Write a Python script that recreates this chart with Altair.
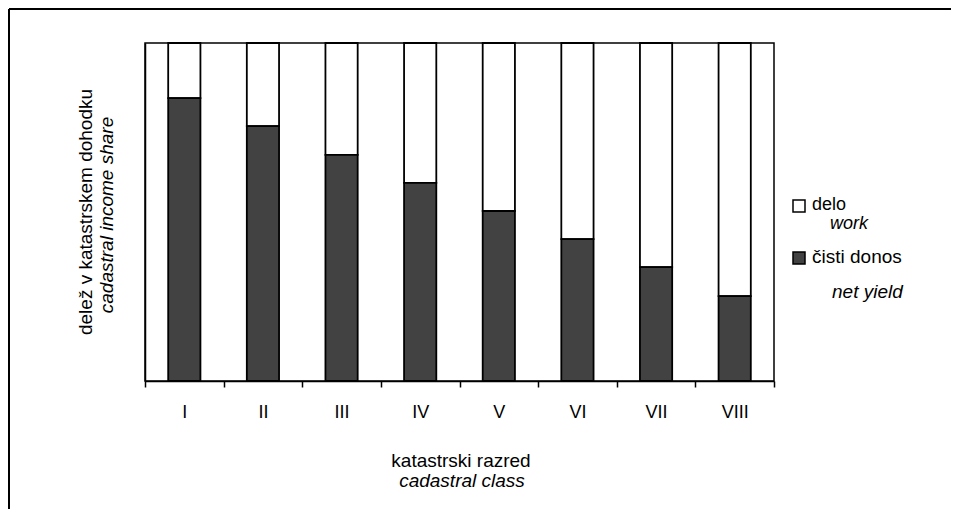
import altair as alt
import pandas as pd

classes = ["I", "II", "III", "IV", "V", "VI", "VII", "VIII"]
net_yield = [83.7, 75.4, 66.9, 58.6, 50.3, 42.0, 33.7, 25.1]
total = [100] * 8
zero = [0] * 8

df = pd.DataFrame({"cls": classes, "net": net_yield, "total": total, "zero": zero})

W, H = 629, 338
FONT = "Liberation Sans"
DARK = "#424242"
FS = 19

xenc = alt.X(
    "cls:N",
    sort=classes,
    scale=alt.Scale(paddingInner=0, paddingOuter=0),
    axis=alt.Axis(
        title=None, labelAngle=0, tickBand="extent", tickSize=6,
        labelPadding=16, labelFontSize=18, labelFont=FONT, labelColor="black",
        domainColor="black", domainWidth=1.5, tickColor="black", tickWidth=1.5,
    ),
)
yscale = alt.Scale(domain=[0, 100], nice=False)
yaxis = alt.Axis(title=None, labels=False, ticks=False, grid=False,
                 domainColor="black", domainWidth=1.5)

barw = alt.RelativeBandSize(0.41)

work = alt.Chart(df).mark_bar(width=barw, fill="white", stroke="black", strokeWidth=1.8).encode(
    x=xenc, y=alt.Y("net:Q", scale=yscale, axis=yaxis), y2="total:Q"
)
net = alt.Chart(df).mark_bar(width=barw, fill=DARK, stroke="black", strokeWidth=1.8).encode(
    x=xenc, y=alt.Y("net:Q", scale=yscale, axis=yaxis), y2="zero:Q"
)


def label(txt, x, y, italic=False, angle=0, align="left", size=FS):
    kw = dict(font=FONT, fontSize=size, color="black", align=align, baseline="middle")
    if italic:
        kw["fontStyle"] = "italic"
    if angle:
        kw["angle"] = angle
    return alt.Chart(pd.DataFrame({"t": [txt]})).mark_text(**kw).encode(
        x=alt.value(x), y=alt.value(y), text="t:N"
    )


one = pd.DataFrame({"a": [0]})
legend_box1 = alt.Chart(one).mark_square(size=144, fill="white", stroke="black", strokeWidth=1.5, opacity=1).encode(
    x=alt.value(654), y=alt.value(163))
legend_box2 = alt.Chart(one).mark_square(size=144, fill=DARK, stroke="black", strokeWidth=1.5, opacity=1).encode(
    x=alt.value(654), y=alt.value(215))

frame_top = alt.Chart(one).mark_rule(color="black", strokeWidth=2).encode(
    x=alt.value(-136), x2=alt.value(806), y=alt.value(-34))
frame_left = alt.Chart(one).mark_rule(color="black", strokeWidth=2).encode(
    x=alt.value(-136), y=alt.value(-34), y2=alt.value(474))

texts = [
    label("delo", 667, 162, size=18),
    label("work", 685, 181, italic=True, size=18),
    label("čisti donos", 667, 214),
    label("net yield", 687, 249, italic=True),
    label("katastrski razred", 316, 418, align="center"),
    label("cadastral class", 317, 438, italic=True, align="center"),
    label("delež v katastrskem dohodku", -59, 169, angle=270, align="center"),
    label("cadastral income share", -38, 172, italic=True, angle=270, align="center"),
]

chart = alt.layer(work, net, legend_box1, legend_box2, frame_top, frame_left, *texts).properties(
    width=W, height=H,
    autosize=alt.AutoSizeParams(type="none"),
    padding={"left": 137, "top": 35, "right": 177, "bottom": 128},
    background="white",
).configure_view(stroke="black", strokeWidth=1.5)

chart.save("out.html", embed_options={"renderer": "svg", "actions": False})
